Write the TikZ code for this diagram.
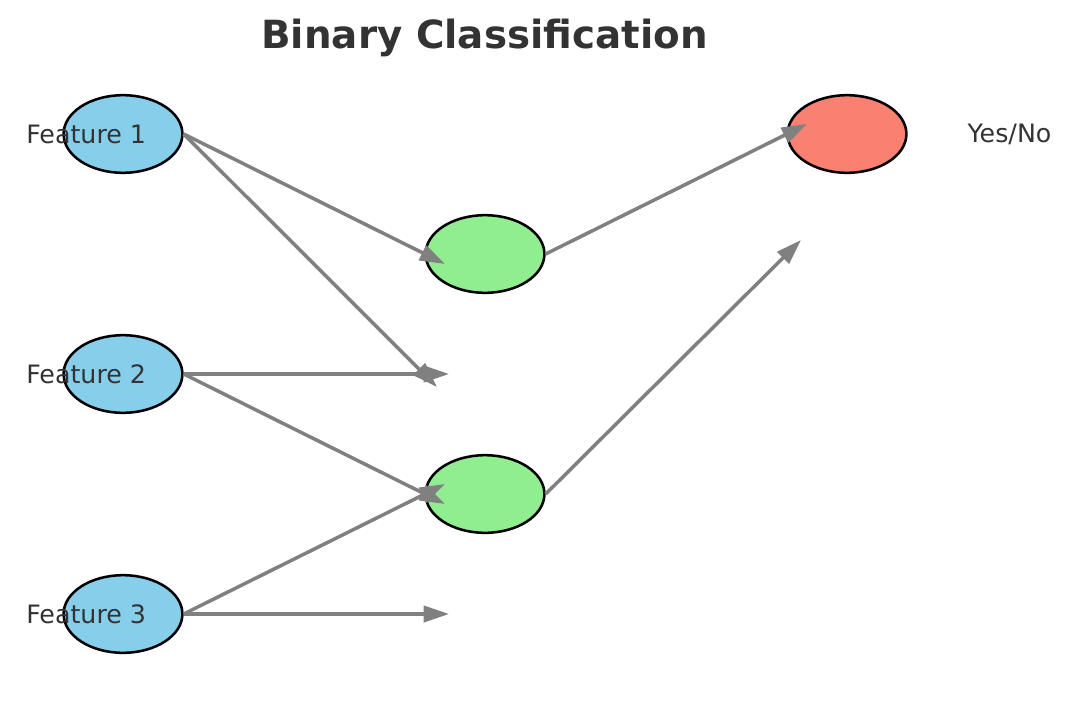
\documentclass[tikz,border=0pt]{standalone}
\usepackage{fontspec}
\setmainfont{DejaVu Sans}
\usetikzlibrary{arrows.meta,shapes.geometric}
\definecolor{textgray}{HTML}{333333}
\definecolor{linegray}{HTML}{808080}
\definecolor{inblue}{HTML}{87CEEB}
\definecolor{hidgreen}{HTML}{90EE90}
\definecolor{outred}{HTML}{FA8072}
\tikzset{
  unit/.style={ellipse, draw=black, line width=1.8pt, inner sep=0pt,
    minimum width=2.97cm, minimum height=1.94cm},
  conn/.style={draw=linegray, line width=2.5pt,
    -{Triangle[length=18pt,width=11.5pt]}},
  lbl/.style={text=textgray, font=\fontsize{18}{21}\selectfont, inner sep=0pt}
}
\begin{document}
\begin{tikzpicture}[x=0.025cm,y=-0.025cm]
% \clip (0,0) rectangle (1070,702);
\useasboundingbox (0,0) rectangle (1070,702);

% Marking title
\node [text=textgray, font=\bfseries\fontsize{27.6}{32}\selectfont] (title) at (484.5,38) {Binary Classification};

% Drawing input units
\node [unit, fill=inblue] (f1) at (123,134) {};
\node [unit, fill=inblue] (f2) at (123,374) {};
\node [unit, fill=inblue] (f3) at (123,614) {};

% Drawing hidden units
\node [unit, fill=hidgreen] (h1) at (485,254) {};
\node [unit, fill=hidgreen] (h2) at (485,494) {};

% Drawing output unit
\node [unit, fill=outred] (o1) at (847,134) {};

% Marking labels
\node [lbl, anchor=west] (l1) at (26,134) {Feature 1};
\node [lbl, anchor=west] (l2) at (26,374) {Feature 2};
\node [lbl, anchor=west] (l3) at (26,614) {Feature 3};
\node [lbl] (lout) at (1009.5,134) {Yes/No};

% Arrow tips
\coordinate (t1) at (445,264);
\coordinate (t2) at (437,387);
\coordinate (t3) at (449,374);
\coordinate (t4) at (445,504);
\coordinate (t5) at (445,484);
\coordinate (t6) at (449,614);
\coordinate (t7) at (807,124);
\coordinate (t8) at (801,240);

% Drawing arrows
\draw [conn] (f1.east) -- (t1);
\draw [conn] (f1.east) -- (t2);
\draw [conn] (f2.east) -- (t3);
\draw [conn] (f2.east) -- (t4);
\draw [conn] (f3.east) -- (t5);
\draw [conn] (f3.east) -- (t6);
\draw [conn] (h1.east) -- (t7);
\draw [conn] (h2.east) -- (t8);
\end{tikzpicture}
\end{document}
